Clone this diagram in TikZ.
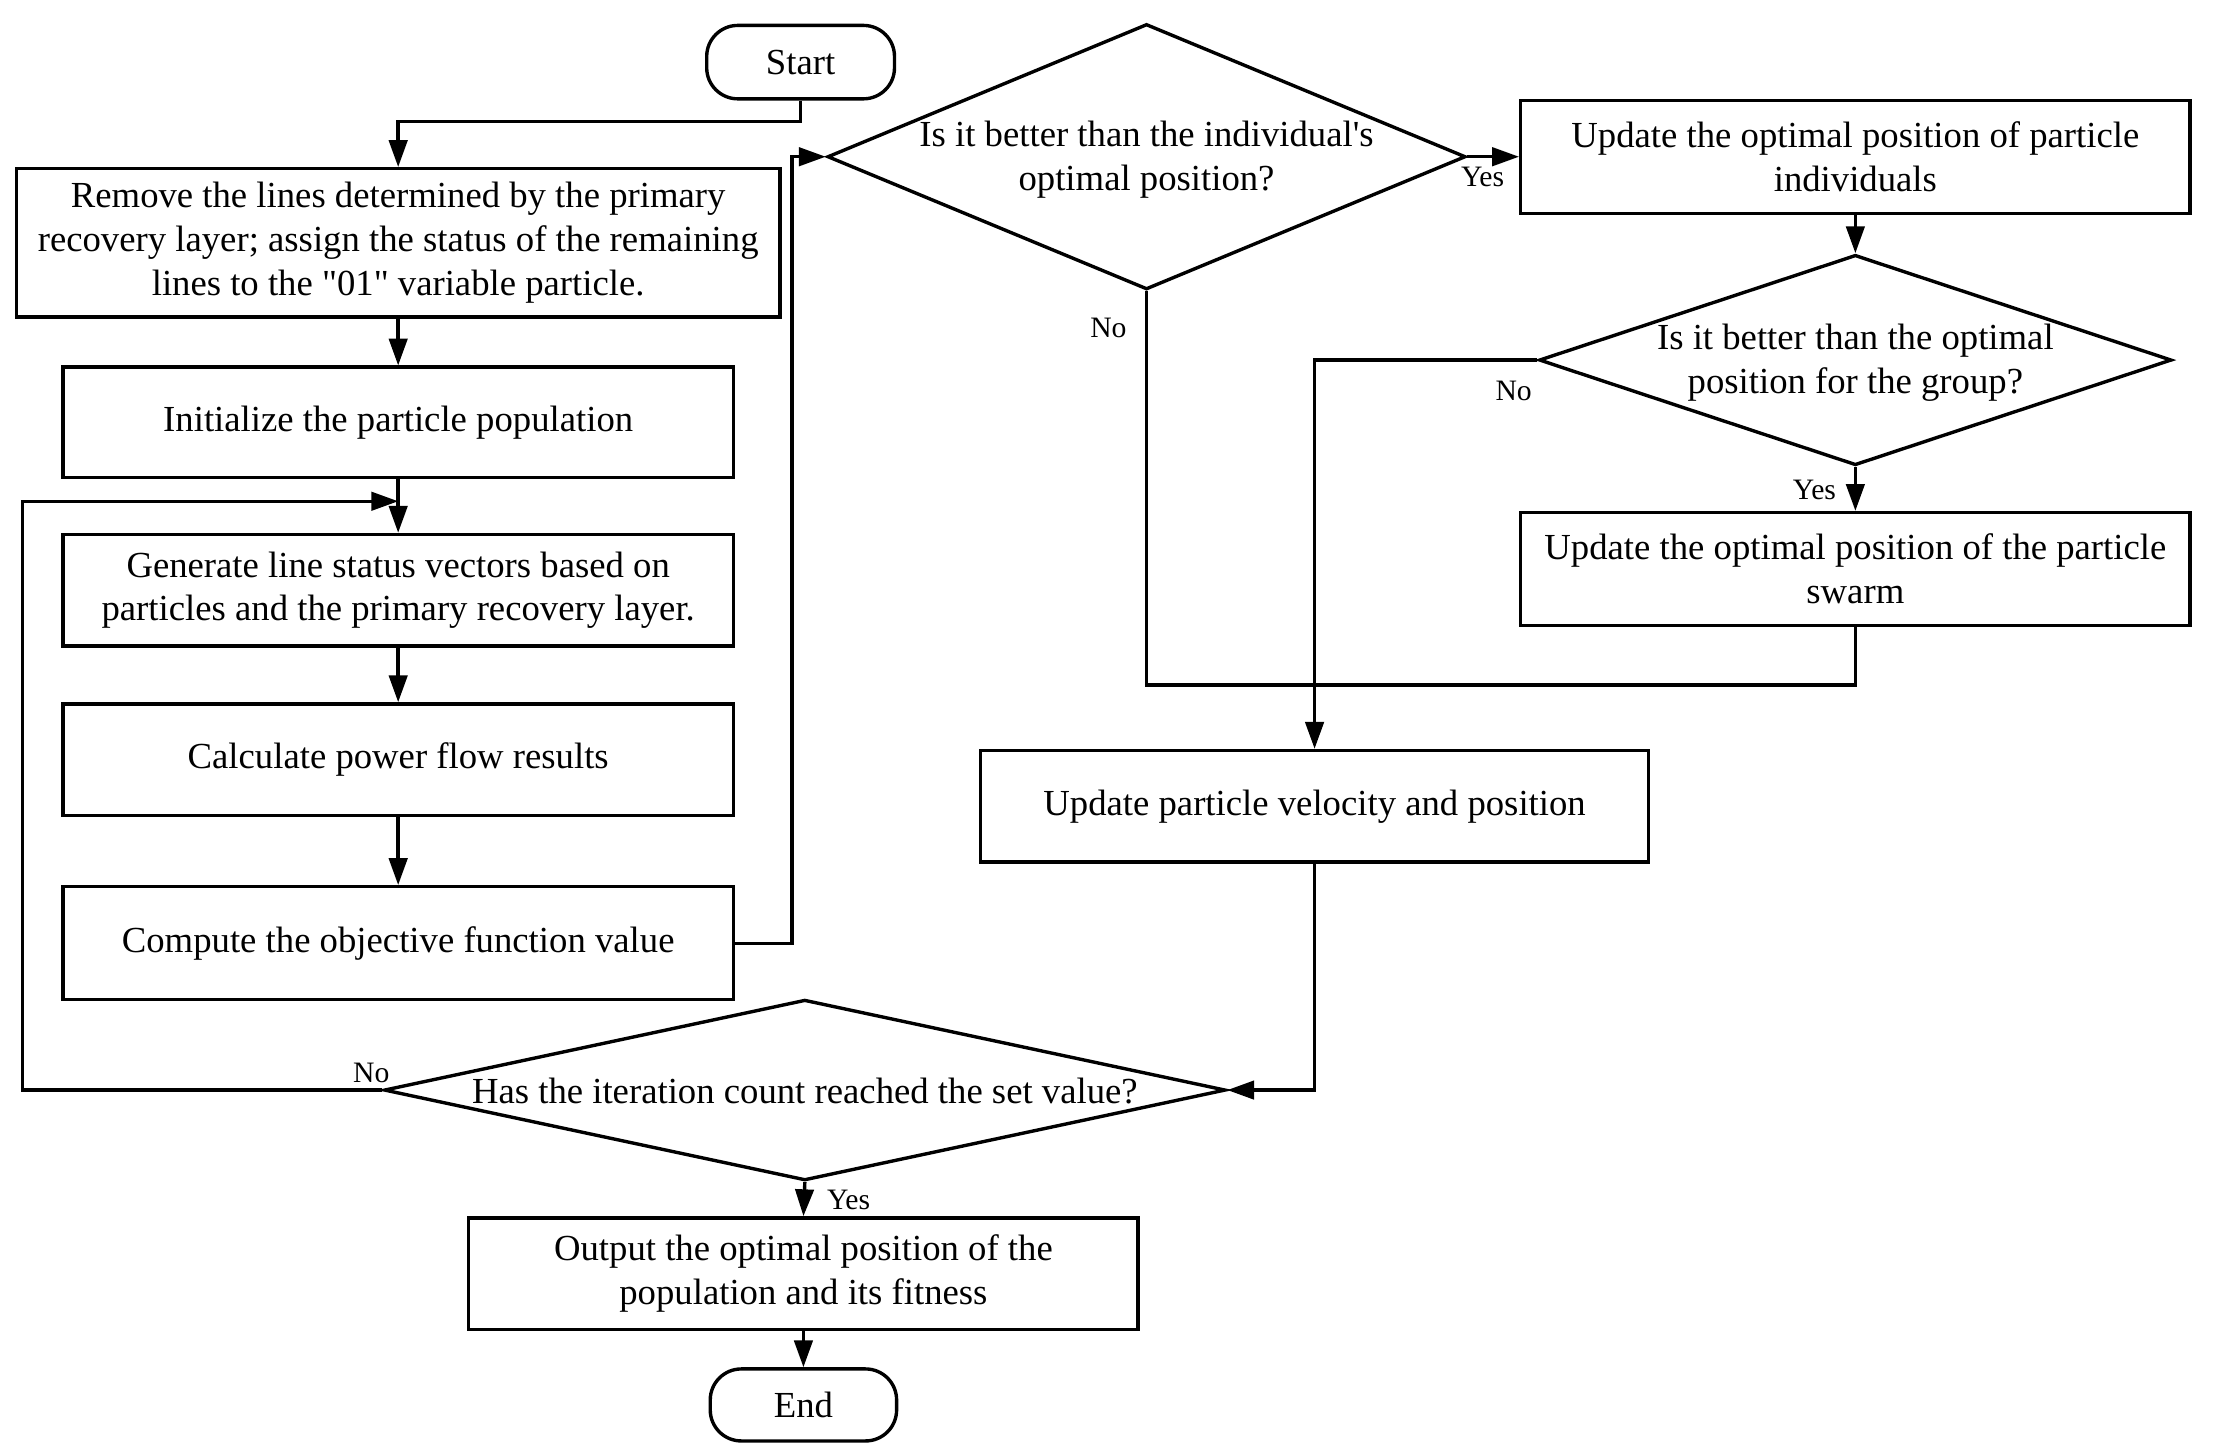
\documentclass[tikz,border=0pt]{standalone}
\usepackage{fontspec}
\setmainfont{Liberation Serif}[Ligatures=TeXOff]
\usetikzlibrary{shapes.geometric,arrows.meta}
\tikzset{
  base/.style={draw=black, line width=2.4pt, inner sep=0pt, align=center, font=\fontsize{26}{31}\selectfont},
  pbox/.style={base, rectangle},
  term/.style={base, rectangle, rounded corners=22pt},
  dia/.style={draw=black, line width=2.4pt, diamond, inner sep=0pt},
  dtext/.style={align=center, inner sep=0pt, font=\fontsize{26}{31}\selectfont},
  lbl/.style={inner sep=0pt, font=\fontsize{21}{25}\selectfont},
  conn/.style={line width=2.4pt},
}
\begin{document}
\begin{tikzpicture}[x=1pt,y=-1pt, >={Triangle[length=19pt,width=13pt]}]
\useasboundingbox (0,0) rectangle (1568,1030);
% nodes
\node[term, minimum width=133pt, minimum height=52pt] (start) at (567,44) {Start};
\node[pbox, minimum width=541pt, minimum height=105pt] (b1) at (282,172) {Remove the lines determined by the primary\\recovery layer; assign the status of the remaining\\lines to the "01" variable particle.};
\node[pbox, minimum width=475pt, minimum height=78pt] (b2) at (282,299) {Initialize the particle population};
\node[pbox, minimum width=475pt, minimum height=79pt] (b3) at (282,418) {Generate line status vectors based on\\particles and the primary recovery layer.};
\node[pbox, minimum width=475pt, minimum height=79pt] (b4) at (282,538) {Calculate power flow results};
\node[pbox, minimum width=475pt, minimum height=80pt] (b5) at (282,668) {Compute the objective function value};
\node[dia, minimum width=452pt, minimum height=188pt] (d1) at (812,111) {};
\node[dtext] (t1) at ([yshift=-2pt]d1.center) {Is it better than the individual's\\optimal position?};
\node[pbox, minimum width=474pt, minimum height=80pt] (b6) at (1314,111) {Update the optimal position of particle\\individuals};
\node[dia, minimum width=448pt, minimum height=149pt] (d2) at (1314,255) {};
\node[dtext] (t2) at ([yshift=-2pt]d2.center) {Is it better than the optimal\\position for the group?};
\node[pbox, minimum width=474pt, minimum height=80pt] (b7) at (1314,403) {Update the optimal position of the particle\\swarm};
\node[pbox, minimum width=473pt, minimum height=79pt] (b8) at (931,571) {Update particle velocity and position};
\node[dia, minimum width=596pt, minimum height=128pt] (d3) at (570,772) {};
\node[dtext] (t3) at ([yshift=-1pt]d3.center) {Has the iteration count reached the set value?};
\node[pbox, minimum width=474pt, minimum height=79pt] (b9) at (569,902) {Output the optimal position of the\\population and its fitness};
\node[term, minimum width=132pt, minimum height=51pt] (end) at (569,995) {End};
% helper coordinates
\coordinate (j1) at (0,86);
\coordinate (xl) at (16,0);
\coordinate (lp) at (282,355);
\coordinate (c5) at (561,0);
\coordinate (c7) at (0,485);
% connectors
\draw[conn,->] (start.south) -- (start.south |- j1) -| (b1.north);
\draw[conn,->] (b1.south) -- (b2.north);
\draw[conn,->] (b2.south) -- (b3.north);
\draw[conn,->] (b3.south) -- (b4.north);
\draw[conn,->] (b4.south) -- (b5.north);
\draw[conn,->] (b5.east) -- (b5.east -| c5) |- (d1.west);
\draw[conn,->] (d1.east) -- (b6.west);
\draw[conn,->] (b6.south) -- (d2.north);
\draw[conn,->] (d2.south) -- (b7.north);
\draw[conn] (d1.south) -- (d1.south |- c7) -| (b7.south);
\draw[conn,->] (d2.west) -| (b8.north);
\draw[conn,->] (b8.south) |- (d3.east);
\draw[conn,->] (d3.west) -- (d3.west -| xl) |- (lp);
\draw[conn,->] (d3.south) -- (b9.north);
\draw[conn,->] (b9.south) -- (end.north);
% labels
\node[lbl] (y1) at (1050,125) {Yes};
\node[lbl] (n1) at (785,232) {No};
\node[lbl] (n2) at (1072,277) {No};
\node[lbl] (y2) at (1285,347) {Yes};
\node[lbl] (n3) at (263,760) {No};
\node[lbl] (y3) at (601,850) {Yes};
\end{tikzpicture}
\end{document}
